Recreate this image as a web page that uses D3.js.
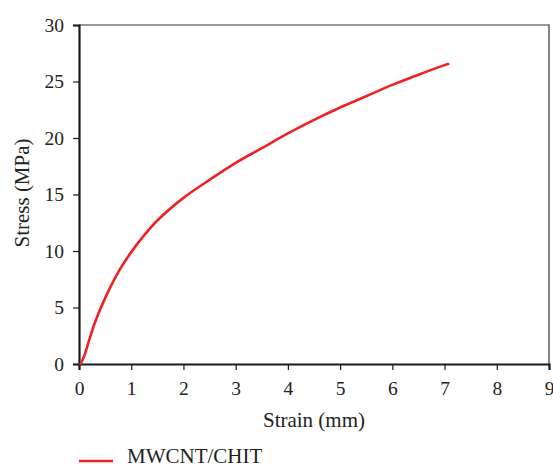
<!DOCTYPE html>
<html>
<head>
<meta charset="utf-8">
<script src="https://cdn.jsdelivr.net/npm/d3@7"></script>
<style>
  html, body { margin: 0; padding: 0; background: #fff; }
  svg text { font-family: "Liberation Serif", "Times New Roman", serif; fill: #222; }
</style>
</head>
<body>
<svg id="chart" width="553" height="467"></svg>
<script>
// Stress–strain curve for the MWCNT/CHIT film
const strain = [0.03, 0.1, 0.2, 0.3, 0.43, 0.6, 0.8, 1.0, 1.25, 1.5, 2.0, 2.5, 3.0, 3.5, 4.0, 4.5, 5.0, 5.5, 6.0, 6.5, 7.0, 7.07];
const stress = [0.0, 0.7, 2.2, 3.6, 5.1, 6.8, 8.5, 9.9, 11.4, 12.7, 14.7, 16.3, 17.8, 19.1, 20.4, 21.6, 22.7, 23.7, 24.7, 25.6, 26.45, 26.55];
const xTicks = [0, 1, 2, 3, 4, 5, 6, 7, 8, 9];
const yTicks = [0, 5, 10, 15, 20, 25, 30];
const seriesName = "MWCNT/CHIT";

const svg = d3.select("#chart");
const plotL = 79, plotR = 549, plotT = 25, plotB = 364;
const serif = "'Liberation Serif', 'Times New Roman', serif";

const x = d3.scaleLinear().domain([0, 9]).range([plotL, plotR]);
const y = d3.scaleLinear().domain([0, 30]).range([plotB, plotT]);

// thin frame on top and right
svg.append("path")
  .attr("d", `M${plotL},${plotT}H${plotR}V${plotB}`)
  .attr("fill", "none").attr("stroke", "#333").attr("stroke-width", 1.2);

const xAxis = svg.append("g")
  .attr("transform", `translate(0,${plotB})`)
  .call(d3.axisBottom(x).tickValues(xTicks).tickSize(6).tickPadding(11).tickFormat(d3.format("d")));
const yAxis = svg.append("g")
  .attr("transform", `translate(${plotL},0)`)
  .call(d3.axisLeft(y).tickValues(yTicks).tickSize(6).tickPadding(9).tickFormat(d3.format("d")));

[xAxis, yAxis].forEach(g => {
  g.attr("font-family", null).attr("font-size", null);
  g.select(".domain").attr("stroke", "#1a1a1a").attr("stroke-width", 2.2);
  g.selectAll(".tick line").attr("stroke", "#1a1a1a").attr("stroke-width", 1.2);
  g.selectAll(".tick text")
    .style("font-family", serif).style("font-size", "19.5px").style("fill", "#222");
});

// curve
const pts = strain.map((s, i) => [s, stress[i]]);
svg.append("path")
  .datum(pts)
  .attr("fill", "none")
  .attr("stroke", "#ee2222")
  .attr("stroke-width", 2.6)
  .attr("stroke-linecap", "round")
  .attr("d", d3.line().x(d => x(d[0])).y(d => y(d[1])).curve(d3.curveCatmullRom.alpha(0.5)));

// axis titles
svg.append("text")
  .attr("x", 314).attr("y", 427)
  .attr("text-anchor", "middle").style("font-size", "21px")
  .text("Strain (mm)");
svg.append("text")
  .attr("transform", `translate(29,193) rotate(-90)`)
  .attr("text-anchor", "middle").style("font-size", "21px")
  .text("Stress (MPa)");

// legend
svg.append("line")
  .attr("x1", 79).attr("x2", 113).attr("y1", 461).attr("y2", 461)
  .attr("stroke", "#ee2222").attr("stroke-width", 2.6);
svg.append("text")
  .attr("x", 127).attr("y", 463)
  .style("font-size", "21px")
  .text(seriesName);
</script>
</body>
</html>
